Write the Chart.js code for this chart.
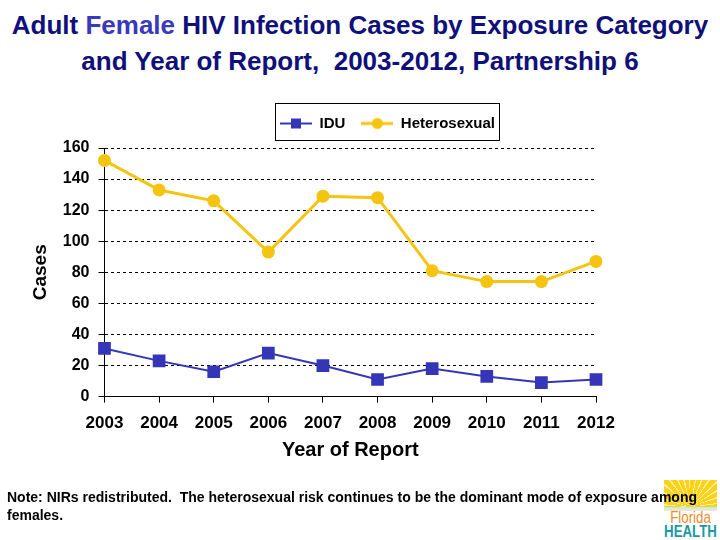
<!DOCTYPE html>
<html>
<head>
<meta charset="utf-8">
<script src="https://cdn.jsdelivr.net/npm/chart.js@4.4.0/dist/chart.umd.min.js"></script>
<style>
  body { margin: 0; width: 720px; height: 540px; background: #fff; position: relative; overflow: hidden; font-family: "Liberation Sans", Arial, sans-serif; }
  #title { position: absolute; left: 0; top: 7px; width: 720px; text-align: center; font-weight: bold; font-size: 26px; line-height: 36px; color: #10107a; }
  #title span { color: #3a3ab8; }
  #wrap { position: absolute; left: 0; top: 0; width: 720px; height: 540px; }
  #logo { position: absolute; left: 664px; top: 480px; width: 53px; height: 59px; }
  #logo .sun { position: absolute; left: 0; top: 0; width: 53px; height: 27px;
    background: repeating-conic-gradient(from 0deg at 50% 100%, #ffd21a 0deg 9deg, #fff0a0 9deg 12deg); }
  #logo .sea { position: absolute; left: 0; top: 27px; width: 53px; height: 4px; background: linear-gradient(#bfe8ef, #f3e9c8); }
  #logo .fl, #logo .he { position: absolute; left: -12px; width: 77px; text-align: center; font-size: 17px; line-height: 15px; transform: scaleX(0.78); }
  #logo .fl { top: 30px; color: #f28a1e; }
  #logo .he { top: 44px; font-weight: bold; color: #1b98a6; }
  #note { position: absolute; left: 7px; top: 488px; font-size: 14px; font-weight: bold; line-height: 18px; color: #000; white-space: nowrap; }
</style>
</head>
<body>
<div id="title">Adult <span>Female</span> HIV Infection Cases by Exposure Category<br>and Year of Report,&nbsp; 2003-2012, Partnership 6</div>
<div id="logo"><div class="sun"></div><div class="sea"></div><div class="fl">Florida</div><div class="he">HEALTH</div></div>
<div id="wrap"><canvas id="chart"></canvas></div>
<div id="note">Note: NIRs redistributed.&nbsp; The heterosexual risk continues to be the dominant mode of exposure among<br>females.</div>
<script>
// Data
const years = ['2003', '2004', '2005', '2006', '2007', '2008', '2009', '2010', '2011', '2012'];
const idu = [31, 23, 16, 28, 20, 11, 18, 13, 9, 11];
const heterosexual = [152, 133, 126, 93, 129, 128, 81, 74, 74, 87];

const blue = '#3535b8';
const yellow = '#f5c410';

Chart.defaults.font.family = '"Liberation Sans", Arial, sans-serif';
Chart.defaults.font.weight = 'bold';
Chart.defaults.color = '#000';

// little line+marker picture for each legend entry
function legendSample(color, shape, lineW) {
    const c = document.createElement('canvas');
    c.width = 32; c.height = 16;
    const g = c.getContext('2d');
    g.strokeStyle = color; g.lineWidth = lineW;
    g.beginPath(); g.moveTo(0, 8); g.lineTo(32, 8); g.stroke();
    g.fillStyle = color;
    if (shape === 'rect') {
        g.fillRect(11, 3, 10, 10);
    } else {
        g.beginPath(); g.arc(16, 8, 5.5, 0, Math.PI * 2); g.fill();
    }
    return c;
}

// move legend (right and a bit up) and put a frame round it
const legendFrame = {
    id: 'legendFrame',
    afterLayout(chart) {
        const lg = chart.legend;
        lg.left += 77;
        lg.right += 77;
        lg.top -= 7;
        lg.bottom -= 7;
    },
    afterDraw(chart) {
        const boxes = chart.legend.legendHitBoxes;
        if (!boxes || !boxes.length) return;
        const first = boxes[0], last = boxes[boxes.length - 1];
        const ctx = chart.ctx;
        ctx.save();
        ctx.strokeStyle = '#000';
        ctx.lineWidth = 1;
        ctx.strokeRect(Math.round(first.left - 5) + 0.5, Math.round(first.top - 13) + 0.5,
            Math.round(last.left + last.width - first.left + 9), Math.round(first.height + 22));
        ctx.restore();
    }
};

new Chart(document.getElementById('chart'), {
    type: 'line',
    data: {
        labels: years,
        datasets: [{
            label: 'IDU',
            data: idu,
            borderColor: blue,
            backgroundColor: blue,
            borderWidth: 2,
            pointStyle: 'rect',
            pointRadius: 9,
            pointBackgroundColor: blue,
            pointBorderWidth: 0,
            tension: 0
        }, {
            label: 'Heterosexual',
            data: heterosexual,
            borderColor: yellow,
            backgroundColor: yellow,
            borderWidth: 3,
            pointStyle: 'circle',
            pointRadius: 6.5,
            pointBackgroundColor: yellow,
            pointBorderWidth: 0,
            tension: 0
        }]
    },
    options: {
        responsive: true,
        maintainAspectRatio: false,
        animation: false,
        layout: { padding: { top: 107, left: 25, right: 124, bottom: 78 } },
        plugins: {
            title: { display: false },
            tooltip: { enabled: false },
            legend: {
                position: 'top',
                labels: {
                    usePointStyle: true,
                    pointStyleWidth: 32,
                    padding: 16,
                    font: { size: 15, weight: 'bold' },
                    color: '#000',
                    generateLabels(chart) {
                        return chart.data.datasets.map((ds, i) => ({
                            text: ds.label,
                            pointStyle: legendSample(ds.borderColor, ds.pointStyle, ds.borderWidth),
                            fillStyle: ds.borderColor,
                            strokeStyle: ds.borderColor,
                            lineWidth: 0,
                            hidden: false,
                            datasetIndex: i
                        }));
                    }
                }
            }
        },
        scales: {
            x: {
                offset: false,
                grid: { drawOnChartArea: false, drawTicks: true, tickLength: 6, color: '#000' },
                border: { display: true, color: '#000', width: 1 },
                ticks: { font: { size: 17, weight: 'bold' }, color: '#000', padding: 11, maxRotation: 0 },
                title: { display: true, text: 'Year of Report', font: { size: 20, weight: 'bold' }, color: '#000', padding: { top: -7, bottom: 0 } }
            },
            y: {
                min: 0,
                max: 160,
                ticks: { stepSize: 20, font: { size: 16, weight: 'bold' }, color: '#000', padding: 9 },
                grid: { color: '#000', lineWidth: 1, drawTicks: true, tickLength: 6 },
                border: { display: true, color: '#000', width: 1, dash: [3, 3] },
                title: { display: true, text: 'Cases', font: { size: 19, weight: 'bold' }, color: '#000', padding: { top: 4, bottom: 2 } }
            }
        }
    },
    plugins: [legendFrame]
});
</script>
</body>
</html>
